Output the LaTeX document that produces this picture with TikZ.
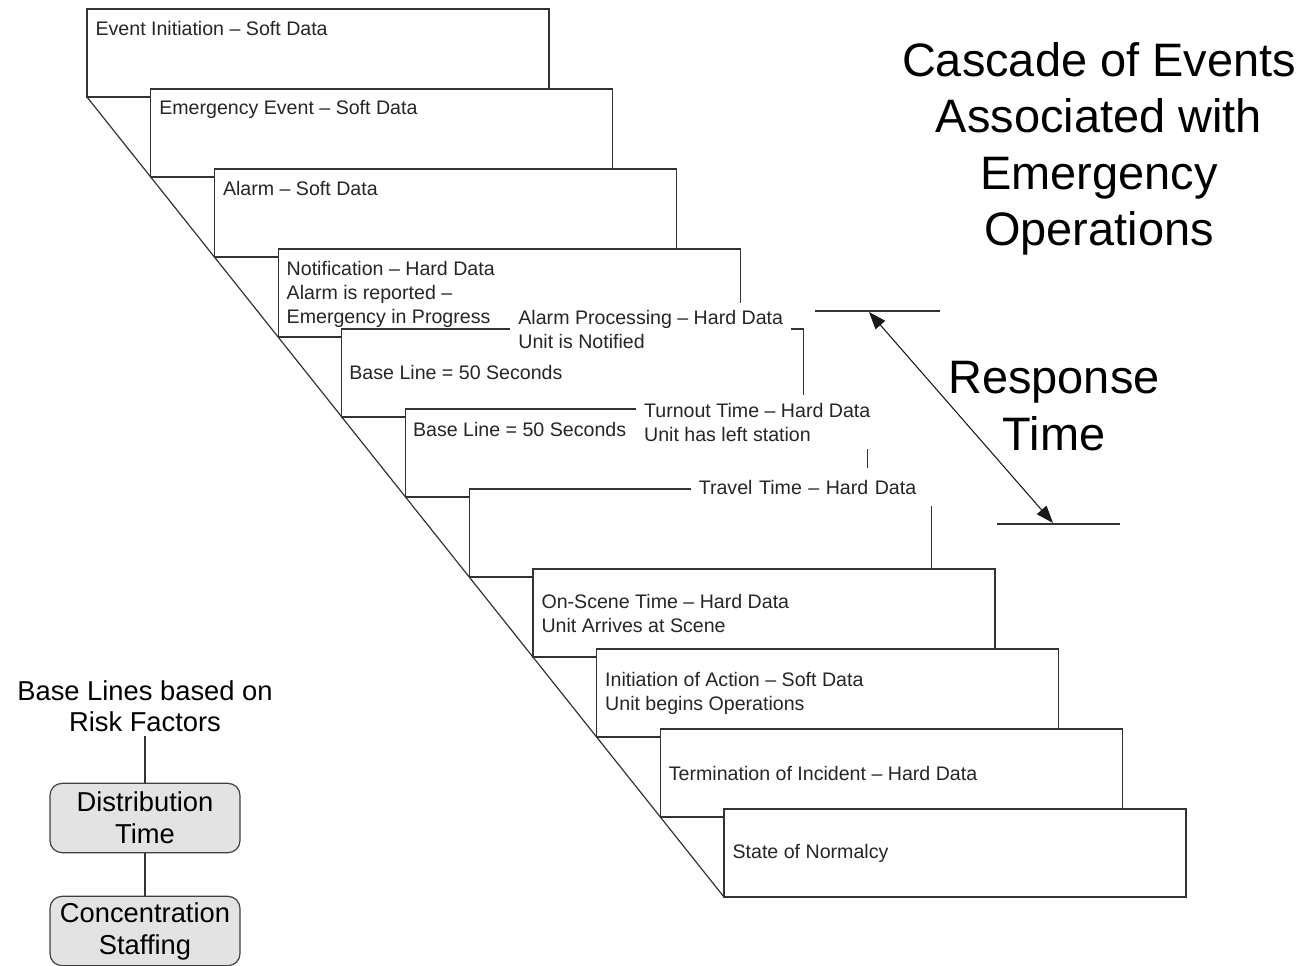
\documentclass[tikz,border=0pt]{standalone}
\usepackage{fontspec}
\setmainfont{Liberation Sans}
\usetikzlibrary{arrows.meta,positioning}

\begin{document}
\begin{tikzpicture}[
            x=0.75pt, y=-0.75pt,
            line width=0.9pt,
            card/.style={draw=black!80, fill=white, anchor=north west,
                minimum width=346.5pt, minimum height=66pt, inner sep=0pt, outer sep=0pt},
            cardtext/.style={anchor=west, align=left, inner sep=0pt, text=black!85,
                font=\fontsize{14.7}{18}\selectfont},
            cutlabel/.style={cardtext, fill=white, inner xsep=6pt, inner ysep=5pt},
            bigtext/.style={align=center, font=\fontsize{35.2}{42.4}\selectfont},
            smalltitle/.style={align=center, inner sep=3pt, font=\fontsize{20.5}{23.5}\selectfont},
            stagebox/.style={draw=black!75, fill=black!11, rounded corners=9pt, align=center,
                minimum width=142.5pt, minimum height=52pt, inner sep=0pt,
                font=\fontsize{20.5}{24}\selectfont}
        ]
            \useasboundingbox (0,0) rectangle (1316,966);

            % Cascade of cards
            \foreach \i in {1,...,11}
                \node[card] (c\i) at ({87+63.7*(\i-1)},{9+80*(\i-1)}) {};
            \draw[black!80] (c1.south west) -- (c11.south west);

            % Card texts
            \node[cardtext] (t1) at ([shift={(8,19)}]c1.north west) {Event Initiation -- Soft Data};
            \node[cardtext] (t2) at ([shift={(8,20)}]c2.north west) {Emergency Event -- Soft Data};
            \node[cardtext] (t3) at ([shift={(8,19)}]c3.north west) {Alarm -- Soft Data};
            \node[cardtext] (t4) at ([shift={(8,45)}]c4.north west)
                {Notification -- Hard Data\\Alarm is reported --\\Emergency in Progress};
            \node[cardtext] (t5) at ([shift={(7,43)}]c5.north west) {Base Line = 50 Seconds};
            \node[cardtext] (t6) at ([shift={(7,20)}]c6.north west) {Base Line = 50 Seconds};
            \node[cardtext] (t8) at ([shift={(8,44)}]c8.north west)
                {On-Scene Time -- Hard Data\\Unit Arrives at Scene};
            \node[cardtext] (t9) at ([shift={(8,44)}]c9.north west)
                {Initiation of Action -- Soft Data\\Unit begins Operations};
            \node[cardtext] (t10) at ([shift={(8,44)}]c10.north west) {Termination of Incident -- Hard Data};
            \node[cardtext] (t11) at ([shift={(8,44)}]c11.north west) {State of Normalcy};

            % Labels cut into the card edges
            \node[cutlabel] (p5) at ([shift={(168,0)}]c5.north west)
                {Alarm Processing -- Hard Data\\Unit is Notified};
            \node[cutlabel, inner ysep=6pt] (p6) at ([shift={(230,13)}]c6.north west)
                {Turnout Time -- Hard Data\\Unit has left station};
            \node[cutlabel, inner ysep=9pt, text width=170pt] (p7) at ([shift={(221,-2)}]c7.north west)
                {Travel Time -- Hard Data};

            % Response time
            \coordinate (rtA) at (869,312);
            \coordinate (rtB) at (1053,523);
            \draw[black!80] (815,311) -- (940,311);
            \draw[black!80] (997,524) -- (1120,524);
            \draw[{Triangle[length=13pt,width=9.5pt]}-{Triangle[length=13pt,width=9.5pt]},
                line width=0.8pt, black!90] (rtA) -- (rtB);
            \node[bigtext] (resp) at (1054,406) {Response\\Time};

            % Title
            \node[bigtext] (title) at (1099,149) {Cascade of Events\\Associated with\\Emergency\\Operations};

            % Base lines
            \node[smalltitle] (base) at (145,706) {Base Lines based on\\Risk Factors};
            \node[stagebox] (dist) at (145,818) {Distribution\\Time};
            \node[stagebox] (conc) at (145,931) {Concentration\\Staffing};
            \draw[black!80] (base) -- (dist);
            \draw[black!80] (dist) -- (conc);
        \end{tikzpicture}
\end{document}
